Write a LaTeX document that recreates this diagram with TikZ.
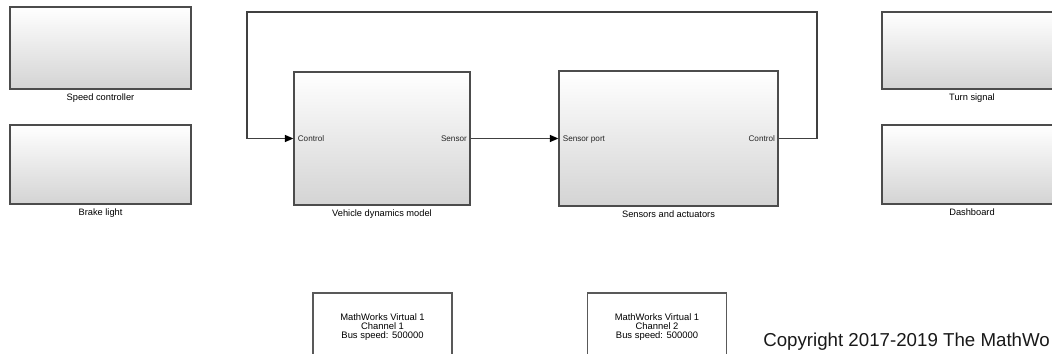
\documentclass[tikz,border=0pt]{standalone}
\usepackage{fontspec}
\setmainfont{Liberation Sans}
\usetikzlibrary{positioning,arrows.meta,shadows}

\begin{document}
\begin{tikzpicture}[
    x=0.025cm, y=-0.025cm,
    every node/.style={inner sep=0pt, font=\fontsize{6.6}{8}\selectfont},
    block/.style={draw=black!70, line width=0.9pt, top color=white, middle color=black!4, bottom color=black!17,
      drop shadow={shadow xshift=0.7pt, shadow yshift=-0.7pt, opacity=0.3}},
    canbox/.style={draw=black!65, line width=0.8pt, fill=white, minimum width=3.475cm, minimum height=1.725cm,
      align=center, font=\fontsize{6.7}{6.4}\selectfont},
    caption/.style={below=2.5pt of #1},
    port/.style={font=\fontsize{5.8}{7}\selectfont, text=black!85, text height=4.6pt, text depth=0.5pt},
    wire/.style={draw=black!75, line width=0.75pt},
    sig/.style={wire, -{Triangle[length=6pt, width=5pt, color=black]}},
  ]
    \useasboundingbox (0,0) rectangle (1052,354);
    % side blocks
    \node[block, minimum width=4.525cm, minimum height=2.05cm] (speed) at (100.5,48) {};
    \node[block, minimum width=4.525cm, minimum height=1.975cm] (brake) at (100.5,164.5) {};
    \node[block, minimum width=4.5cm, minimum height=1.925cm] (turn) at (972,50.5) {};
    \node[block, minimum width=4.5cm, minimum height=1.975cm] (dash) at (972,164.5) {};
    \node[caption=speed] (speedlbl) {Speed controller};
    \node[caption=brake] (brakelbl) {Brake light};
    \node[caption=turn] (turnlbl) {Turn signal};
    \node[caption=dash] (dashlbl) {Dashboard};
    % main blocks
    \node[block, minimum width=4.4cm, minimum height=3.325cm] (vdm) at (382,138.5) {};
    \node[block, minimum width=5.475cm, minimum height=3.375cm] (sa) at (668.5,138.5) {};
    \node[caption=vdm] (vdmlbl) {Vehicle dynamics model};
    \node[caption=sa] (salbl) {Sensors and actuators};
    \node[port, right=3pt of vdm.west] (vdmin) {Control};
    \node[port, left=2.5pt of vdm.east] (vdmout) {Sensor};
    \node[port, right=3pt of sa.west] (sain) {Sensor port};
    \node[port, left=2.5pt of sa.east] (saout) {Control};
    % connections
    \coordinate (loopr) at (817,12);
    \coordinate (loopl) at (247,12);
    \draw[sig] (vdm.east) -- (sa.west);
    \draw[sig] (sa.east) -| (loopr) -- (loopl) |- (vdm.west);
    % CAN channels
    \node[canbox] (can1) at (382.5,327.5) {MathWorks Virtual 1\\Channel 1\\Bus speed: 500000};
    \node[canbox] (can2) at (657,327.5) {MathWorks Virtual 1\\Channel 2\\Bus speed: 500000};
    \node[anchor=base west, font=\fontsize{13.3}{16}\selectfont, text=black!90] (copyright) at (763,346.5) {Copyright 2017-2019 The MathWo};
\end{tikzpicture}
\end{document}
